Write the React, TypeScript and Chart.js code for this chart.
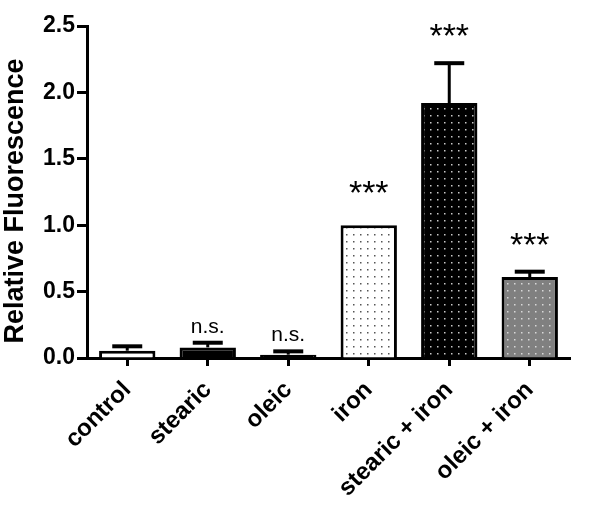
import React, { useEffect, useRef } from "react";
import { Chart, registerables } from "chart.js";

Chart.register(...registerables);

const categories = ["control", "stearic", "oleic", "iron", "stearic + iron", "oleic + iron"];
const values = [0.055, 0.08, 0.025, 1.0, 1.92, 0.61];
const errors = [0.033, 0.035, 0.025, 0, 0.30, 0.04];
const marks = ["", "n.s.", "n.s.", "***", "***", "***"];
const yTicks = [0, 0.5, 1.0, 1.5, 2.0, 2.5];
const yTitle = "Relative Fluorescence";

const FONT = "'Liberation Sans', Arial, sans-serif";

function dotPattern(bg: string, dot: string) {
  const c = document.createElement("canvas");
  c.width = 7;
  c.height = 7;
  const x = c.getContext("2d")!;
  x.fillStyle = bg;
  x.fillRect(0, 0, 7, 7);
  x.fillStyle = dot;
  x.fillRect(3, 3, 1.5, 1.5);
  return x.createPattern(c, "repeat")!;
}

export default function App() {
  const ref = useRef<HTMLCanvasElement>(null);
  useEffect(() => {
    const ctx = ref.current!.getContext("2d")!;
    const fills: any[] = [
      "#ffffff",
      "#000000",
      "#000000",
      dotPattern("#ffffff", "#555555"),
      dotPattern("#000000", "#c8c8c8"),
      dotPattern("#808080", "#d8d8d8"),
    ];
    const errPlugin = {
      id: "errs",
      afterDatasetsDraw(chart: any) {
        const c = chart.ctx;
        const xs = chart.scales.x;
        const ys = chart.scales.y;
        c.save();
        c.strokeStyle = "#000";
        c.lineCap = "butt";
        values.forEach((v, i) => {
          const x = xs.getPixelForValue(i);
          const y0 = ys.getPixelForValue(v);
          const y1 = ys.getPixelForValue(v + errors[i]);
          if (errors[i] > 0) {
            c.lineWidth = 3;
            c.beginPath();
            c.moveTo(x, y0);
            c.lineTo(x, y1);
            c.stroke();
            c.lineWidth = 4;
            c.beginPath();
            c.moveTo(x - 15, y1);
            c.lineTo(x + 15, y1);
            c.stroke();
          }
          const m = marks[i];
          if (m) {
            c.fillStyle = "#000";
            c.textAlign = "center";
            c.textBaseline = "alphabetic";
            if (m === "***") {
              c.font = `34px ${FONT}`;
              const gap = errors[i] > 0 ? 35 : 40;
              c.fillText(m, x, y1 - gap + 19);
            } else {
              c.font = `21px ${FONT}`;
              c.fillText(m, x, y1 - 10);
            }
          }
        });
        // y-axis title
        const ca = chart.chartArea;
        c.save();
        c.translate(16, (ca.top + ca.bottom) / 2 + 9);
        c.rotate(-Math.PI / 2);
        c.font = `bold 27px ${FONT}`;
        c.fillStyle = "#000";
        c.textAlign = "center";
        c.textBaseline = "middle";
        c.fillText(yTitle, 0, 0);
        c.restore();
        c.restore();
      },
    };
    const chart = new Chart(ctx, {
      type: "bar",
      data: {
        labels: categories,
        datasets: [
          {
            data: values,
            backgroundColor: fills,
            borderColor: "#000",
            borderWidth: 3,
            barPercentage: 0.7,
            categoryPercentage: 1,
          },
        ],
      },
      options: {
        animation: false,
        responsive: false,
        layout: { padding: { top: 26, right: 30, left: 0, bottom: 0 } },
        plugins: { legend: { display: false }, tooltip: { enabled: false } },
        scales: {
          x: {
            offset: true,
            grid: {
              offset: false,
              drawOnChartArea: false,
              drawTicks: true,
              tickLength: 8,
              tickWidth: 3,
              tickColor: "#000",
            },
            border: { display: true, color: "#000", width: 3 },
            ticks: {
              color: "#000",
              maxRotation: 45,
              minRotation: 45,
              padding: 10,
              font: { family: FONT, size: 24, weight: "bold" },
            },
            afterFit: (s: any) => {
              s.height = 153;
            },
          },
          y: {
            min: 0,
            max: 2.5,
            afterBuildTicks: (s: any) => {
              s.ticks = yTicks.map((v) => ({ value: v }));
            },
            grid: {
              drawOnChartArea: false,
              drawTicks: true,
              tickLength: 10,
              tickWidth: 3,
              tickColor: "#000",
            },
            border: { display: true, color: "#000", width: 3 },
            ticks: {
              color: "#000",
              padding: 2,
              callback: (v: any) => Number(v).toFixed(1),
              font: { family: FONT, size: 23, weight: "bold" },
            },
            afterFit: (s: any) => {
              s.width = 87;
            },
          },
        },
      },
      plugins: [errPlugin],
    });
    return () => chart.destroy();
  }, []);
  return (
    <div style={{ position: "absolute", left: 0, top: 0, width: 600, height: 511, background: "#fff" }}>
      <canvas ref={ref} width={600} height={511} style={{ width: 600, height: 511 }} />
    </div>
  );
}
